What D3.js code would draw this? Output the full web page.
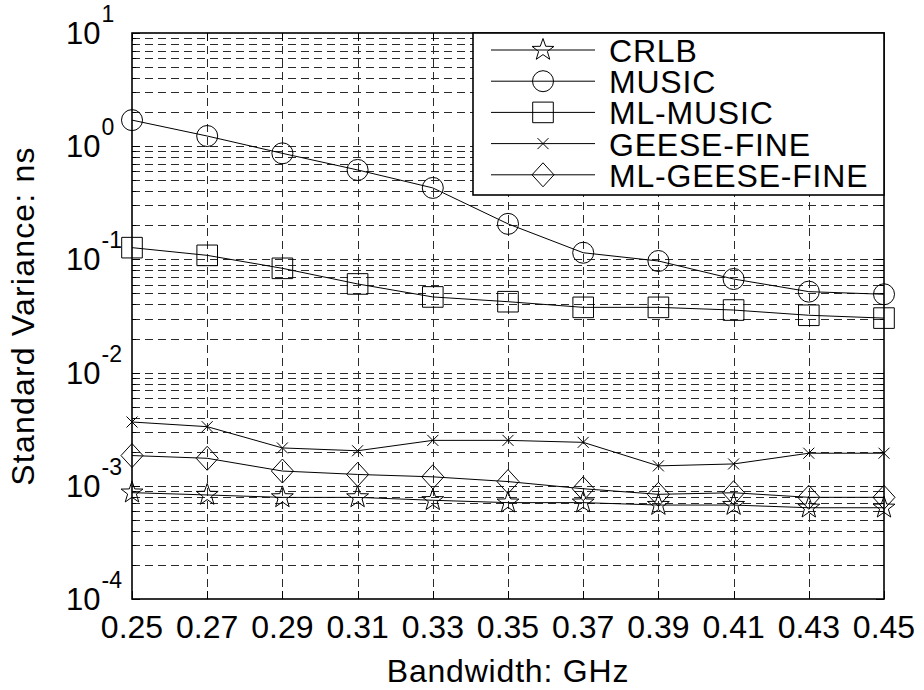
<!DOCTYPE html>
<html><head><meta charset="utf-8">
<script src="https://cdn.jsdelivr.net/npm/d3@7"></script>
<style>body{margin:0;background:#fff}svg{display:block}text{font-family:Arial,"Liberation Sans",sans-serif;fill:#000}</style>
</head><body>
<script>
const bandwidth = [0.25,0.27,0.29,0.31,0.33,0.35,0.37,0.39,0.41,0.43,0.45];
const xTickLabels = ["0.25","0.27","0.29","0.31","0.33","0.35","0.37","0.39","0.41","0.43","0.45"];
const yTickExps = [-4,-3,-2,-1,0,1];
const seriesNames = ["CRLB","MUSIC","ML-MUSIC","GEESE-FINE","ML-GEESE-FINE"];
const seriesMarkers = ["star","circle","square","x","diamond"];
const crlb = [0.00087,0.00083,0.00079,0.00079,0.000745,0.00071,0.00071,0.000676,0.000676,0.00064,0.00064];
const music = [1.70,1.23,0.865,0.617,0.428,0.206,0.1145,0.0968,0.0671,0.0519,0.0492];
const mlMusic = [0.127,0.1086,0.0834,0.0607,0.0466,0.0423,0.0377,0.0377,0.0357,0.0321,0.0303];
const geeseFine = [0.00366,0.00333,0.00216,0.00204,0.00252,0.00252,0.00242,0.00150,0.00156,0.00194,0.00194];
const mlGeeseFine = [0.00185,0.00175,0.00135,0.00126,0.00120,0.00109,0.000942,0.000841,0.000868,0.000791,0.000791];
const seriesValues = [crlb,music,mlMusic,geeseFine,mlGeeseFine];

const W=924,H=690, L=132,R=884,T=33,B=599;
const svg=d3.select("body").append("svg").attr("width",W).attr("height",H);
const x=d3.scaleLinear().domain([0.25,0.45]).range([L,R]);
const y=d3.scaleLog().domain([1e-4,1e1]).range([B,T]);

const grid=svg.append("g").attr("stroke","#2a2a2a").attr("stroke-width",1).attr("stroke-dasharray","8,5").attr("fill","none");
const minorVals=[];
for(let e=-4;e<1;e++){for(let m=1;m<10;m++){minorVals.push(m*Math.pow(10,e));}}
minorVals.push(10);
minorVals.forEach(v=>{const yy=Math.round(y(v))+0.5; if(yy>T+1&&yy<B-1) grid.append("line").attr("x1",L).attr("x2",R).attr("y1",yy).attr("y2",yy);});
bandwidth.forEach(b=>{const xx=Math.round(x(b))+0.5; if(xx>L+1&&xx<R-1) grid.append("line").attr("x1",xx).attr("x2",xx).attr("y1",T).attr("y2",B);});

// ticks
const tk=svg.append("g").attr("stroke","#000").attr("stroke-width",1);
minorVals.forEach(v=>{const yy=Math.round(y(v))+0.5;const major=Math.abs(Math.log10(v)-Math.round(Math.log10(v)))<1e-9;const len=major?8:4;
 tk.append("line").attr("x1",L).attr("x2",L+len).attr("y1",yy).attr("y2",yy);
 tk.append("line").attr("x1",R).attr("x2",R-len).attr("y1",yy).attr("y2",yy);});
bandwidth.forEach(b=>{const xx=Math.round(x(b))+0.5;
 tk.append("line").attr("x1",xx).attr("x2",xx).attr("y1",B).attr("y2",B-8);
 tk.append("line").attr("x1",xx).attr("x2",xx).attr("y1",T).attr("y2",T+8);});

// markers
function markerPath(type,cx,cy){
  const p=d3.path();
  if(type==="circle"){p.moveTo(cx+10.5,cy);p.arc(cx,cy,10.5,0,2*Math.PI);}
  else if(type==="square"){const s=10.3;p.rect(cx-s,cy-s,2*s,2*s);}
  else if(type==="diamond"){const w=11,h=12;p.moveTo(cx,cy-h);p.lineTo(cx+w,cy);p.lineTo(cx,cy+h);p.lineTo(cx-w,cy);p.closePath();}
  else if(type==="x"){const s=5.5;p.moveTo(cx-s,cy-s);p.lineTo(cx+s,cy+s);p.moveTo(cx+s,cy-s);p.lineTo(cx-s,cy+s);}
  else if(type==="star"){const ro=11.5,ri=4.6;for(let i=0;i<10;i++){const r=i%2?ri:ro;const a=-Math.PI/2+i*Math.PI/5;const px=cx+r*Math.cos(a),py=cy+r*Math.sin(a);if(i)p.lineTo(px,py);else p.moveTo(px,py);}p.closePath();}
  return p.toString();
}
const line=d3.line().x(d=>x(d[0])).y(d=>y(d[1]));
const plot=svg.append("g");
seriesValues.forEach((vals,i)=>{
  const pts=bandwidth.map((b,j)=>[b,vals[j]]);
  plot.append("path").attr("d",line(pts)).attr("fill","none").attr("stroke","#000").attr("stroke-width",1);
  pts.forEach(d=>plot.append("path").attr("d",markerPath(seriesMarkers[i],x(d[0]),y(d[1]))).attr("fill","none").attr("stroke","#000").attr("stroke-width",1));
});

// frame
svg.append("rect").attr("x",L).attr("y",T).attr("width",R-L).attr("height",B-T).attr("fill","none").attr("stroke","#000").attr("stroke-width",1.6);

// x tick labels
svg.append("g").selectAll("text").data(bandwidth).join("text")
 .attr("x",d=>x(d)).attr("y",B+39).attr("text-anchor","middle").attr("font-size",32)
 .text((d,i)=>xTickLabels[i]);
// y tick labels
yTickExps.forEach(e=>{
  const t=svg.append("text").attr("x",66).attr("y",y(Math.pow(10,e))+11).attr("text-anchor","start").attr("font-size",31);
  t.append("tspan").text("10");
  t.append("tspan").attr("dx",1).attr("dy",-22).attr("font-size",23).text(String(e));
});
// axis labels
svg.append("text").attr("x",(L+R)/2).attr("y",682).attr("text-anchor","middle").attr("font-size",32).attr("letter-spacing",0.8).text("Bandwidth: GHz");
svg.append("text").attr("transform",`translate(34,${(T+B)/2}) rotate(-90)`).attr("text-anchor","middle").attr("font-size",32).attr("letter-spacing",1.2).text("Standard Variance: ns");

// legend
const lg=svg.append("g");
const lx0=473, ly0=33, lx1=884, ly1=195;
lg.append("rect").attr("x",lx0).attr("y",ly0).attr("width",lx1-lx0).attr("height",ly1-ly0).attr("fill","#fff").attr("stroke","#000").attr("stroke-width",1.6);
seriesNames.forEach((n,i)=>{
  const yy=50+i*31.2;
  lg.append("line").attr("x1",491).attr("x2",595).attr("y1",yy).attr("y2",yy).attr("stroke","#000").attr("stroke-width",1);
  lg.append("path").attr("d",markerPath(seriesMarkers[i],543,yy)).attr("fill","none").attr("stroke","#000").attr("stroke-width",1);
  lg.append("text").attr("x",609).attr("y",yy+12).attr("font-size",32).attr("letter-spacing",0.8).text(n);
});
</script>
</body></html>
